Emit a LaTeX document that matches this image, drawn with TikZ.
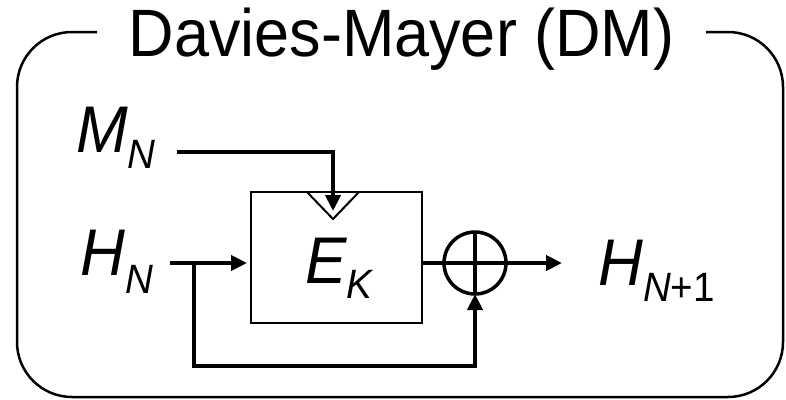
\documentclass[tikz,border=0pt]{standalone}
\usepackage{fontspec}
\setmainfont[FakeStretch=0.94]{Liberation Sans}
\usetikzlibrary{arrows.meta}
\newcommand{\mysub}[2][16pt]{\raisebox{-#1}{\fontsize{41}{41}\selectfont #2}}
\tikzset{
  thickline/.style={line width=4.5pt},
  thinline/.style={line width=2pt},
  arr/.style={-{Triangle[length=16pt,width=15pt]}},
  lbl/.style={inner sep=0pt, anchor=base west, font=\fontsize{66}{66}\selectfont\itshape},
  frame/.style={line width=2.5pt, rounded corners=55pt},
}
\begin{document}
\begin{tikzpicture}[x=1pt,y=-1pt]
\useasboundingbox (0,0) rectangle (786,399);
% frame
\draw[frame] (97,32) -- (17,32) -- (17,397) -- (783,397) -- (783,32) -- (706,32);
\node[inner sep=0pt, anchor=base, font=\fontsize{67}{67}\selectfont] (title) at (401.5,56) {Davies-Mayer (DM)};
% labels
\node[lbl] (mn) at (76,152) {M\mysub{N}};
\node[lbl] (hn) at (80,275) {H\mysub[18pt]{N}};
\node[lbl] (hn1) at (598,285) {H\mysub{N\upshape+1}};
% cipher box
\node[draw, thinline, minimum width=171pt, minimum height=131pt, inner sep=0pt, outer sep=0pt] (box) at (336.5,257.5) {};
\node[lbl] (ek) at (305,283) {E\mysub[15pt]{K}};
\draw[thinline, line join=miter] (307,192) -- (333,219) -- (359,192);
% xor
\node[circle, draw, line width=3.5pt, minimum size=62pt, inner sep=0pt, outer sep=0pt] (xor) at (475,263) {};
\draw[line width=3.5pt] (xor.north) -- (xor.south);
% coordinates
\coordinate (mstart) at (177,152);
\coordinate (keyin) at (333,211);
\coordinate (hstart) at (170,263);
\coordinate (hin) at (247,263);
\coordinate (br) at (194,263);
\coordinate (fb) at (194,366);
\coordinate (out) at (562,263);
% connectors
\draw[thickline, arr] (mstart) -| (keyin);
\draw[thickline, arr] (hstart) -- (hin);
\draw[thickline, arr] (br) -- (fb) -| (xor.south);
\draw[thickline, arr] (box.east |- xor.center) -- (out);
\end{tikzpicture}
\end{document}
